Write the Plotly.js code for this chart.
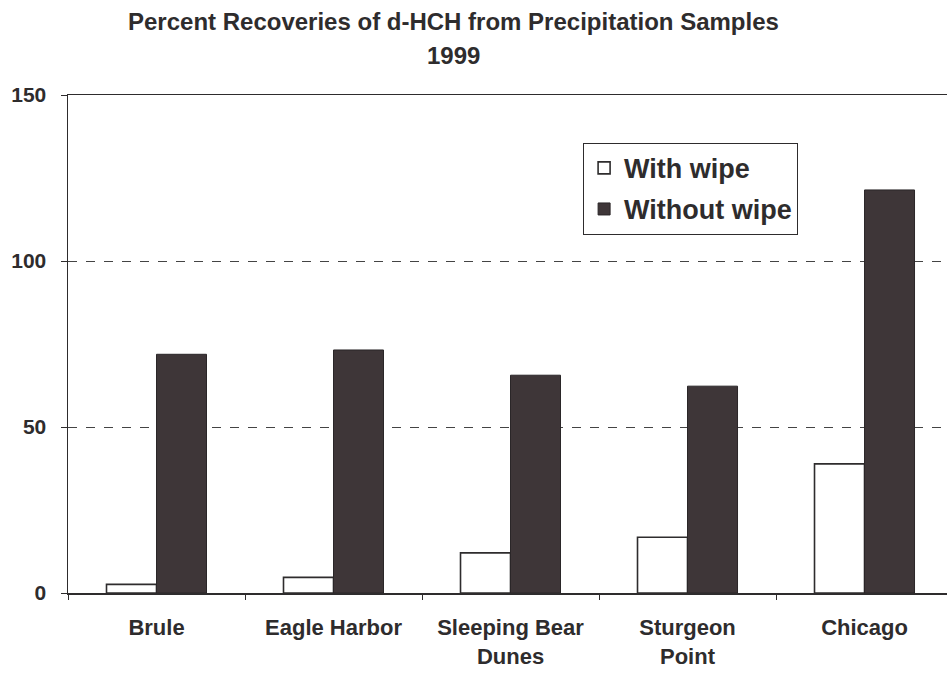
<!DOCTYPE html>
<html>
<head>
<meta charset="utf-8">
<script src="https://cdn.plot.ly/plotly-3.0.1.min.js"></script>
<style>
  html, body { margin: 0; padding: 0; background: #ffffff; }
  #chart { width: 947px; height: 673px; }
</style>
</head>
<body>
<div id="chart"></div>
<script>
// Sampling sites (category axis)
const sites = ["Brule", "Eagle Harbor", "Sleeping Bear<br>Dunes", "Sturgeon<br>Point", "Chicago"];

// Percent recoveries of d-HCH, 1999
const withWipe = [2.6, 4.7, 12.1, 16.8, 38.9];
const withoutWipe = [71.9, 73.2, 65.6, 62.3, 121.4];

// Y axis ticks
const yTicks = [0, 50, 100, 150];

const ink = "#2e2c2d";
const fontFamily = "'Liberation Sans', Arial, sans-serif";

const traces = [
  {
    type: "bar",
    name: "With wipe",
    legendgroup: "wipe",
    x: sites,
    y: withWipe,
    marker: { color: "#ffffff", line: { color: ink, width: 1.6 } }
  },
  {
    type: "bar",
    name: "Without wipe",
    legendgroup: "nowipe",
    x: sites,
    y: withoutWipe,
    marker: { color: "#3e3638", line: { color: "#2a2628", width: 1 } }
  }
];

const layout = {
  width: 947,
  height: 673,
  paper_bgcolor: "#ffffff",
  plot_bgcolor: "#ffffff",
  margin: { l: 68, r: 0, t: 95, b: 80 },
  barmode: "group",
  bargap: 0.435,
  bargroupgap: 0,
  font: { family: fontFamily, color: ink, weight: "bold" },
  showlegend: true,
  legend: {
    x: 0.586, y: 0.904, xanchor: "left", yanchor: "top",
    bgcolor: "#ffffff",
    bordercolor: ink, borderwidth: 1,
    font: { size: 27, family: fontFamily, color: ink, weight: "bold" },
    itemwidth: 30,
    traceorder: "grouped",
    tracegroupgap: 3
  },
  xaxis: {
    type: "category",
    range: [-0.5, 4.466],
    showline: true, linecolor: ink, linewidth: 1.5,
    mirror: true,
    ticks: "outside", tickson: "boundaries", ticklen: 5, tickcolor: ink,
    ticklabelstandoff: 14,
    tickfont: { size: 22, family: fontFamily, color: ink, weight: "bold" },
    showgrid: false,
    fixedrange: true
  },
  yaxis: {
    range: [0, 150],
    tickvals: yTicks,
    ticktext: yTicks.map(String),
    showline: true, linecolor: ink, linewidth: 1.5,
    ticks: "outside", ticklen: 6, tickcolor: ink,
    ticklabelstandoff: 10,
    tickfont: { size: 21, family: fontFamily, color: ink, weight: "bold" },
    showgrid: true, gridcolor: "#444444", griddash: "dash", gridwidth: 1,
    zeroline: false,
    fixedrange: true
  },
  annotations: [
    {
      text: "Percent Recoveries of d-HCH from Precipitation Samples",
      xref: "paper", yref: "paper", x: 0.438, y: 1.147,
      xanchor: "center", yanchor: "middle", showarrow: false,
      font: { size: 24, family: fontFamily, color: ink, weight: "bold" }
    },
    {
      text: "1999",
      xref: "paper", yref: "paper", x: 0.438, y: 1.08,
      xanchor: "center", yanchor: "middle", showarrow: false,
      font: { size: 24, family: fontFamily, color: ink, weight: "bold" }
    }
  ]
};

Plotly.newPlot("chart", traces, layout, { displayModeBar: false, staticPlot: true });
</script>
</body>
</html>
